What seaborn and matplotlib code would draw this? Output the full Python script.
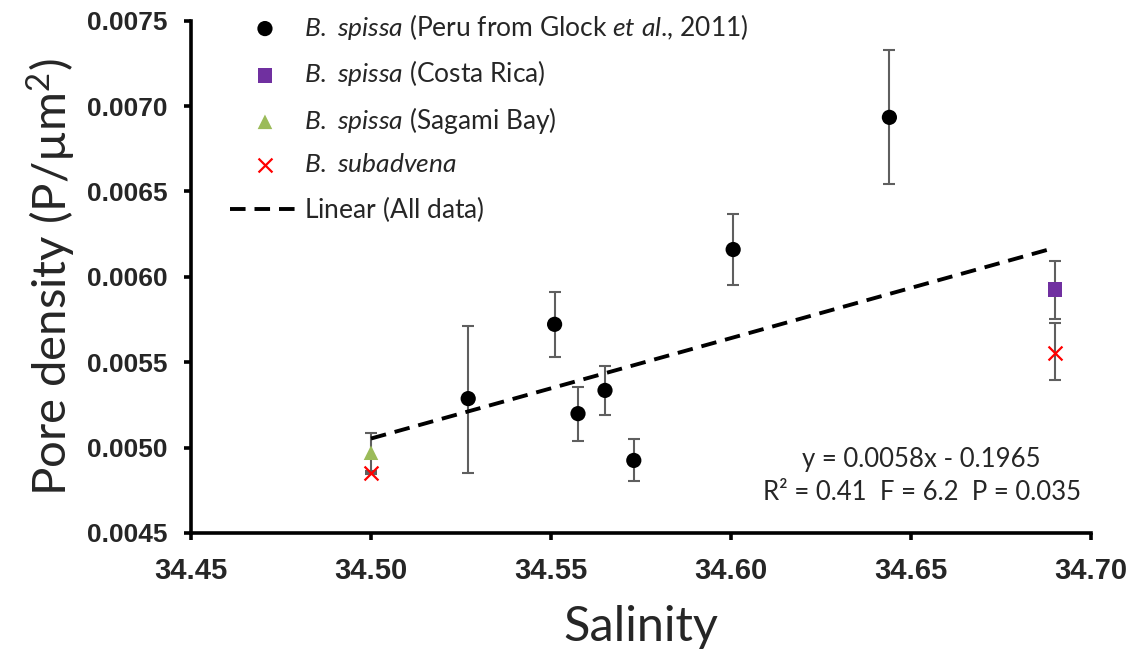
import numpy as np
import matplotlib
matplotlib.use("Agg")
import matplotlib.pyplot as plt
import matplotlib.ticker as mticker
import seaborn as sns

# --- data ---
peru_sal = [34.527, 34.551, 34.5575, 34.565, 34.573, 34.6006, 34.644]
peru_pd = [0.005287, 0.005722, 0.005199, 0.005335, 0.004925, 0.006160, 0.006934]
peru_err_lo = [0.000434, 0.000193, 0.000159, 0.000142, 0.000123, 0.000209, 0.000393]
peru_err_hi = [0.000428, 0.000190, 0.000156, 0.000141, 0.000123, 0.000209, 0.000394]

cr_sal = [34.69]
cr_pd = [0.005926]
cr_err_lo = [0.000170]
cr_err_hi = [0.000165]

sagami_sal = [34.50]
sagami_pd = [0.004970]
sagami_err_lo = [0.000115]
sagami_err_hi = [0.000115]

subadv_sal = [34.50, 34.69]
subadv_pd = [0.004853, 0.005556]
subadv_err_lo = [0.000010, 0.000160]
subadv_err_hi = [0.000010, 0.000174]

all_sal = peru_sal + cr_sal + sagami_sal + subadv_sal
all_pd = peru_pd + cr_pd + sagami_pd + subadv_pd

x_ticks = [34.45, 34.50, 34.55, 34.60, 34.65, 34.70]
y_ticks = [0.0045, 0.0050, 0.0055, 0.0060, 0.0065, 0.0070, 0.0075]

sns.set_style("ticks")
plt.rcParams["font.family"] = ["Lato", "DejaVu Sans"]
plt.rcParams["mathtext.fontset"] = "custom"
plt.rcParams["mathtext.rm"] = "Lato"
plt.rcParams["mathtext.it"] = "Lato:italic"
plt.rcParams["mathtext.bf"] = "Lato:bold"

fig = plt.figure(figsize=(11.32, 6.53), dpi=100)
ax = fig.add_axes([191 / 1132, 1 - 533 / 653, 900 / 1132, (533 - 20.7) / 653])

err_kw = dict(fmt="none", ecolor="#5f5f5f", elinewidth=1.5, capsize=4.5, capthick=1.5, zorder=2)
ax.errorbar(peru_sal, peru_pd, yerr=[peru_err_lo, peru_err_hi], **err_kw)
ax.errorbar(cr_sal, cr_pd, yerr=[cr_err_lo, cr_err_hi], **err_kw)
ax.errorbar(sagami_sal, sagami_pd, yerr=[sagami_err_lo, sagami_err_hi], **err_kw)
ax.errorbar(subadv_sal, subadv_pd, yerr=[subadv_err_lo, subadv_err_hi], **err_kw)

sns.scatterplot(x=peru_sal, y=peru_pd, marker="o", color="black", s=120, edgecolor="none",
                ax=ax, zorder=3,
                label=r"$\mathit{B.\ spissa}$ (Peru from Glock $\mathit{et\ al}$., 2011)")
sns.scatterplot(x=cr_sal, y=cr_pd, marker="s", color="#7030a0", s=112, edgecolor="none",
                ax=ax, zorder=3, label=r"$\mathit{B.\ spissa}$ (Costa Rica)")
sns.scatterplot(x=sagami_sal, y=sagami_pd, marker="^", color="#9bbb59", s=110, edgecolor="none",
                ax=ax, zorder=3, label=r"$\mathit{B.\ spissa}$ (Sagami Bay)")
sns.scatterplot(x=subadv_sal, y=subadv_pd, marker="x", color="#ff0000", s=100, linewidth=1.6,
                ax=ax, zorder=3, label=r"$\mathit{B.\ subadvena}$")

sns.regplot(x=np.array(all_sal), y=np.array(all_pd), scatter=False, ci=None, ax=ax,
            truncate=True, label=r"$\mathrm{Linear\ (All\ data)}$",
            line_kws=dict(color="black", lw=2.8, dashes=(4, 2.3), zorder=4))

ax.set_xlim(34.45, 34.70)
ax.set_ylim(0.0045, 0.0075)
ax.set_xticks(x_ticks)
ax.set_yticks(y_ticks)
ax.xaxis.set_major_formatter(mticker.FormatStrFormatter("%.2f"))
ax.yaxis.set_major_formatter(mticker.FormatStrFormatter("%.4f"))

sns.despine(ax=ax)
for side in ["left", "bottom"]:
    ax.spines[side].set_linewidth(2.6)
    ax.spines[side].set_color("black")
ax.tick_params(axis="both", direction="out", length=5, width=2.6, color="black")
for lab in ax.get_xticklabels():
    lab.set_fontfamily("Liberation Sans")
    lab.set_fontweight("bold")
    lab.set_fontsize(21)
for lab in ax.get_yticklabels():
    lab.set_fontfamily("Liberation Sans")
    lab.set_fontweight("bold")
    lab.set_fontsize(19)
ax.tick_params(axis="x", pad=12)
ax.tick_params(axis="y", pad=12)

ax.set_xlabel("Salinity", fontsize=35, labelpad=15)
ax.set_ylabel(r"Pore density (P/µm$^2$)", fontsize=34, labelpad=6)

ax.text(0.812, 0.1425, "y = 0.0058x - 0.1965", transform=ax.transAxes,
        ha="center", va="center", fontsize=18.5)
ax.text(0.812, 0.080, "R² = 0.41  F = 6.2  P = 0.035", transform=ax.transAxes,
        ha="center", va="center", fontsize=18.5)

handles, labels = ax.get_legend_handles_labels()
ax.legend(handles, labels, loc="upper left", bbox_to_anchor=(230 / 1132, 1 - 11.5 / 653),
          bbox_transform=fig.transFigure, frameon=False, fontsize=19,
          handlelength=2.65, handletextpad=0.15, labelspacing=0.63,
          borderpad=0, borderaxespad=0)

fig.savefig("out.png", dpi=100)
